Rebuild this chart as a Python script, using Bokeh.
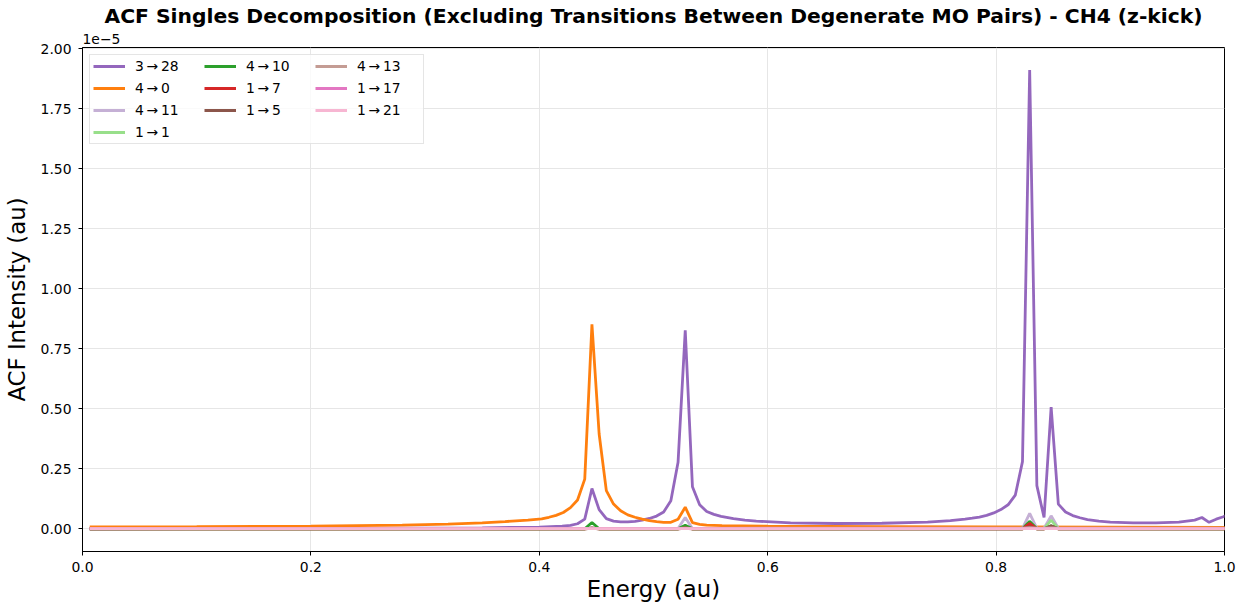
from bokeh.plotting import figure
from bokeh.models import (Legend, LegendItem, FixedTicker, NumeralTickFormatter,
                          Range1d, Title)
from bokeh.embed import file_html
from bokeh.resources import INLINE

# ---- data (ACF intensity in units of 1e-5 au) ----
labels = ["3\u2009\u2192\u200928", "4\u2009\u2192\u20090", "4\u2009\u2192\u200911", "1\u2009\u2192\u20091",
          "4\u2009\u2192\u200910", "1\u2009\u2192\u20097", "1\u2009\u2192\u20095",
          "4\u2009\u2192\u200913", "1\u2009\u2192\u200917", "1\u2009\u2192\u200921"]
colors = ["#9467bd", "#ff7f0e", "#c5b0d5", "#98df8a", "#2ca02c", "#d62728", "#8c564b",
          "#c49c94", "#e377c2", "#f7b6d2"]

e_3_28 = [0.0063, 0.1, 0.2, 0.3, 0.35, 0.38, 0.40, 0.42, 0.4273, 0.4335, 0.4398, 0.4461,
          0.4524, 0.4587, 0.4650, 0.4712, 0.4775, 0.4838, 0.4901, 0.4964, 0.5027, 0.5089,
          0.5152, 0.5215, 0.5278, 0.5341, 0.5404, 0.5466, 0.5529, 0.5592, 0.57, 0.58, 0.59,
          0.62, 0.66, 0.70, 0.74, 0.76, 0.7728, 0.7791, 0.7854, 0.7917, 0.7980, 0.8042,
          0.8105, 0.8168, 0.8231, 0.8294, 0.8357, 0.8420, 0.8482, 0.8545, 0.8608, 0.8671,
          0.8734, 0.88, 0.89, 0.90, 0.92, 0.94, 0.96, 0.9739, 0.9802, 0.9865, 0.9927,
          0.9990, 1.0053]
v_3_28 = [0.000, 0.001, 0.002, 0.003, 0.004, 0.006, 0.007, 0.011, 0.014, 0.021, 0.040, 0.168,
          0.080, 0.042, 0.032, 0.029, 0.029, 0.031, 0.036, 0.043, 0.053, 0.070,
          0.117, 0.277, 0.827, 0.175, 0.100, 0.072, 0.060, 0.052, 0.042, 0.036, 0.032,
          0.025, 0.022, 0.023, 0.028, 0.034, 0.040, 0.044, 0.049, 0.056, 0.066, 0.080,
          0.100, 0.140, 0.280, 1.912, 0.180, 0.047, 0.507, 0.103, 0.070, 0.055,
          0.046, 0.038, 0.032, 0.028, 0.025, 0.025, 0.028, 0.036, 0.047, 0.027, 0.040,
          0.050, 0.065]

e_4_0 = [0.0063, 0.1, 0.2, 0.28, 0.32, 0.35, 0.37, 0.39, 0.4021, 0.4084, 0.4147, 0.4210,
         0.4273, 0.4335, 0.4398, 0.4461, 0.4524, 0.4587, 0.4650, 0.4712, 0.4775, 0.4838,
         0.4901, 0.4964, 0.5027, 0.5089, 0.5152, 0.5215, 0.5278, 0.5341, 0.5404, 0.5466,
         0.56, 0.60, 0.70, 0.80, 0.90, 1.0053]
v_4_0 = [0.008, 0.009, 0.011, 0.015, 0.019, 0.025, 0.030, 0.036, 0.041, 0.048, 0.056, 0.068,
         0.088, 0.120, 0.207, 0.852, 0.395, 0.159, 0.103, 0.075, 0.058, 0.048,
         0.040, 0.034, 0.030, 0.027, 0.027, 0.040, 0.090, 0.026, 0.018, 0.015,
         0.013, 0.011, 0.009, 0.008, 0.007, 0.006]

e_small = [0.0063, 0.4398, 0.4461, 0.4524, 0.5215, 0.5278, 0.5341, 0.8231, 0.8294, 0.8357,
           0.8420, 0.8482, 0.8545, 1.0053]
v_4_11 = [0.001, 0.001, 0.006, 0.001, 0.001, 0.047, 0.001, 0.002, 0.064, 0.002, 0.002, 0.054, 0.002, 0.001]
v_1_1 = [0.000, 0.000, 0.004, 0.000, 0.000, 0.008, 0.000, 0.001, 0.030, 0.001, 0.001, 0.036, 0.001, 0.000]
v_4_10 = [0.000, 0.000, 0.026, 0.000, 0.000, 0.015, 0.000, 0.000, 0.030, 0.000, 0.000, 0.012, 0.000, 0.000]
v_1_7 = [0.000, 0.000, 0.003, 0.000, 0.000, 0.004, 0.000, 0.000, 0.022, 0.000, 0.000, 0.006, 0.000, 0.000]
v_1_5 = [0.000, 0.000, 0.002, 0.000, 0.000, 0.002, 0.000, 0.000, 0.008, 0.000, 0.000, 0.012, 0.000, 0.000]
v_4_13 = [0.002, 0.002, 0.002, 0.002, 0.002, 0.003, 0.002, 0.003, 0.005, 0.003, 0.003, 0.004, 0.003, 0.003]
v_1_17 = [0.001, 0.001, 0.001, 0.001, 0.001, 0.001, 0.001, 0.001, 0.001, 0.001, 0.001, 0.001, 0.001, 0.001]
v_1_21 = [0.001, 0.001, 0.001, 0.001, 0.001, 0.001, 0.001, 0.001, 0.001, 0.001, 0.001, 0.001, 0.001, 0.001]

x_ticks = [0.0, 0.2, 0.4, 0.6, 0.8, 1.0]
y_ticks = [0.0, 0.25, 0.5, 0.75, 1.0, 1.25, 1.5, 1.75, 2.0]

series = [(e_3_28, v_3_28), (e_4_0, v_4_0), (e_small, v_4_11), (e_small, v_1_1),
          (e_small, v_4_10), (e_small, v_1_7), (e_small, v_1_5), (e_small, v_4_13),
          (e_small, v_1_17), (e_small, v_1_21)]

FONT = "DejaVu Sans"

p = figure(width=1239, height=604, output_backend="svg", toolbar_location=None,
           x_range=Range1d(0.0, 1.0), y_range=Range1d(-0.0947, 2.006),
           min_border_left=81, min_border_right=15, min_border_top=47, min_border_bottom=53,
           title=None)

# scale-offset text just above the frame, then the main title above it
p.add_layout(Title(text="1e\u22125", align="left", text_font=FONT, text_font_size="13.9px",
                   text_font_style="normal", text_color="black", standoff=7, offset=0),
             "above")
p.add_layout(Title(text="ACF Singles Decomposition (Excluding Transitions Between Degenerate MO Pairs) - CH4 (z-kick)",
                   align="center", text_font=FONT, text_font_size="20.3px",
                   text_font_style="bold", text_color="black", standoff=1),
             "above")

renderers = []
for (ex, vy), c in zip(series, colors):
    r = p.line(ex, vy, line_color=c, line_width=2.8)
    renderers.append(r)

# invisible placeholder so that the three legend columns hold 4, 3 and 3 entries
blank = p.line([0.5], [0.0], line_alpha=0, line_width=2.8)

items = [LegendItem(label=l, renderers=[r]) for l, r in zip(labels, renderers)]
order = items[:7] + [LegendItem(label=" ", renderers=[blank])] + items[7:] + \
        [LegendItem(label=" ", renderers=[blank])]
legend = Legend(items=order, location="top_left", orientation="vertical", ncols=3,
                margin=7, padding=3, spacing=6, glyph_width=32, glyph_height=16,
                label_height=16, label_width=63, label_standoff=10,
                label_text_font=FONT, label_text_font_size="13.9px",
                label_text_color="black",
                border_line_color="#cccccc", border_line_width=1,
                background_fill_alpha=0.8)
p.add_layout(legend)

for ax in (p.xaxis[0], p.yaxis[0]):
    ax.major_label_text_font = FONT
    ax.major_label_text_font_size = "13.9px"
    ax.major_label_text_color = "black"
    ax.axis_label_text_font = FONT
    ax.axis_label_text_font_size = "22.8px"
    ax.axis_label_text_font_style = "normal"
    ax.axis_label_text_color = "black"
    ax.major_tick_in = 0
    ax.major_tick_out = 4
    ax.minor_tick_in = 0
    ax.minor_tick_out = 0
    ax.axis_line_color = "black"
    ax.major_tick_line_color = "black"
    ax.major_label_standoff = 5

p.xaxis[0].ticker = FixedTicker(ticks=x_ticks)
p.yaxis[0].ticker = FixedTicker(ticks=y_ticks)
p.xaxis[0].formatter = NumeralTickFormatter(format="0.0")
p.yaxis[0].formatter = NumeralTickFormatter(format="0.00")
p.xaxis[0].axis_label = "Energy (au)"
p.yaxis[0].axis_label = "ACF Intensity (au)"
p.xaxis[0].axis_label_standoff = 1
p.xaxis[0].major_label_standoff = 6
p.yaxis[0].axis_label_standoff = 8
p.yaxis[0].major_label_standoff = 7

p.xgrid.grid_line_color = "#e6e6e6"
p.ygrid.grid_line_color = "#e6e6e6"
p.xgrid.grid_line_width = 1
p.ygrid.grid_line_width = 1

p.outline_line_color = "black"
p.outline_line_width = 1
p.outline_line_alpha = 1

open("out.html", "w").write(file_html(p, INLINE))
